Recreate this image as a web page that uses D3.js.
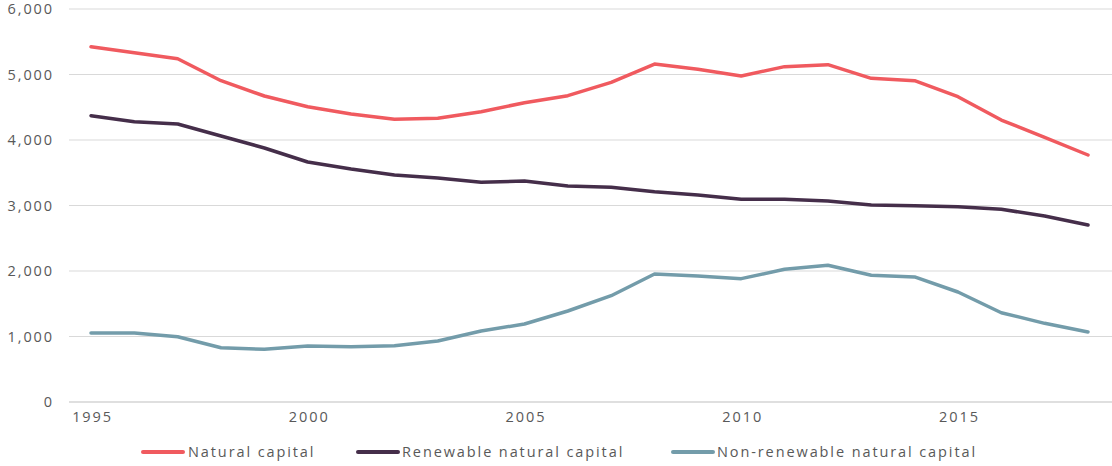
<!DOCTYPE html>
<html><head><meta charset="utf-8">
<script src="https://cdn.jsdelivr.net/npm/d3@7"></script>
<style>body{margin:0;background:#fff;}svg{display:block;font-family:"Open Sans",sans-serif;}</style>
</head><body><svg id="c" width="1112" height="466"></svg>
<script>
const years = d3.range(1995, 2019);
const naturalCapital = [5424,5333,5240,4905,4672,4508,4397,4316,4331,4432,4570,4677,4880,5160,5079,4977,5120,5150,4942,4906,4661,4305,4041,3771];
const renewableCapital = [4371,4279,4244,4061,3878,3664,3557,3466,3420,3354,3374,3298,3278,3211,3160,3095,3095,3069,3008,2997,2982,2942,2840,2702];
const nonRenewableCapital = [1053,1053,997,829,804,855,844,860,931,1084,1191,1389,1623,1954,1924,1883,2026,2087,1934,1909,1679,1363,1201,1069];
const seriesNames = ["Natural capital","Renewable natural capital","Non-renewable natural capital"];
const seriesColors = ["#f05a5f","#452e4a","#739caa"];
const yTicks = [0,1000,2000,3000,4000,5000,6000];
const xTicks = [1995,2000,2005,2010,2015];

const svg = d3.select("#c");
const x = d3.scaleLinear().domain([1995,2018]).range([91,1088]);
const y = d3.scaleLinear().domain([0,6000]).range([402,9]);
const LS = 1.9, FS = 14.5, TXT = "#595959";

// grid
svg.append("g").selectAll("line").data(yTicks).join("line")
  .attr("x1",69).attr("x2",1112)
  .attr("y1",d=>y(d)).attr("y2",d=>y(d))
  .attr("stroke",d=>d===0?"#d4d4d4":"#d9d9d9").attr("stroke-width",d=>d===0?1.5:1);

const yAxis = d3.axisLeft(y).tickValues(yTicks).tickFormat(d3.format(",")).tickSize(0).tickPadding(0);
const ga = svg.append("g").attr("transform","translate(54,0)").call(yAxis);
ga.select(".domain").remove();
ga.selectAll("text").attr("font-size",FS).attr("fill",TXT).attr("font-family","Open Sans").attr("letter-spacing",LS);

const xAxis = d3.axisBottom(x).tickValues(xTicks).tickFormat(d3.format("d")).tickSize(0).tickPadding(0);
const gx = svg.append("g").attr("transform","translate(1,412)").call(xAxis);
gx.select(".domain").remove();
gx.selectAll("text").attr("font-size",FS).attr("fill",TXT).attr("font-family","Open Sans").attr("letter-spacing",LS);

const allSeries = [naturalCapital, renewableCapital, nonRenewableCapital];
const line = d3.line().x((d,i)=>x(years[i])).y(d=>y(d));
svg.append("g").selectAll("path").data(allSeries).join("path")
  .attr("d",line).attr("fill","none")
  .attr("stroke",(d,i)=>seriesColors[i]).attr("stroke-width",3.5)
  .attr("stroke-linejoin","round").attr("stroke-linecap","round");

// legend
const legendX = [143,358,673];
const lg = svg.append("g").selectAll("g").data(seriesNames).join("g")
  .attr("transform",(d,i)=>`translate(${legendX[i]},452)`);
lg.append("line").attr("x1",0).attr("x2",40).attr("y1",0).attr("y2",0)
  .attr("stroke",(d,i)=>seriesColors[i]).attr("stroke-width",4).attr("stroke-linecap","round");
lg.append("text").attr("x",(d,i)=>i===0?45:44).attr("y",0).attr("dy","0.35em")
  .attr("font-size",FS).attr("fill",TXT).attr("letter-spacing",LS).text(d=>d);
</script></body></html>
